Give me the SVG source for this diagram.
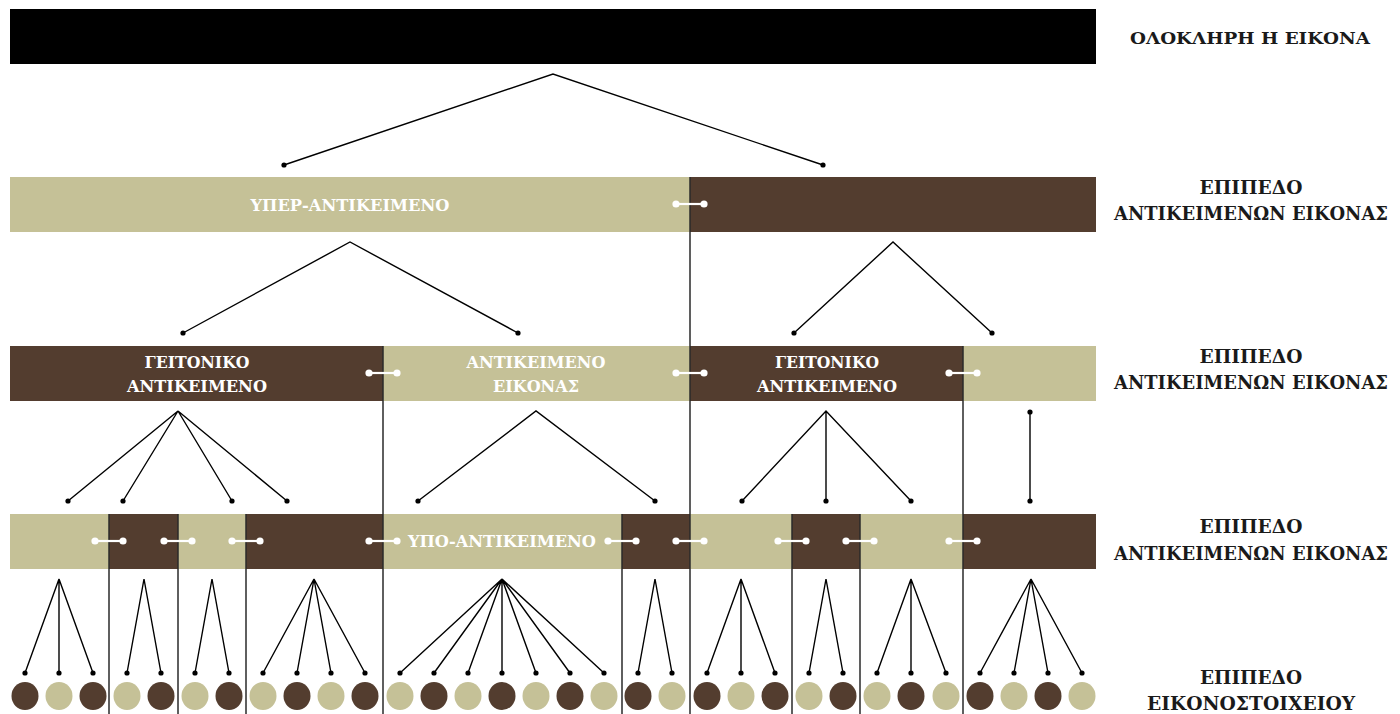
<svg xmlns="http://www.w3.org/2000/svg" width="1400" height="714" viewBox="0 0 1400 714">
<style>
.lt{fill:#c5c197}
.dk{fill:#533d2f}
.sep{stroke:#2a2a2a;stroke-width:1.5;fill:none}
.tr{stroke:#000;stroke-width:1.4;fill:none}
.dot{fill:#000}
.br line{stroke:#fff;stroke-width:2.2}
.br circle{fill:#fff}
.bt{font-family:"DejaVu Serif","Liberation Serif",serif;font-weight:bold;fill:#fff;font-size:17px;text-anchor:middle}
.lb{font-family:"DejaVu Serif","Liberation Serif",serif;font-weight:bold;fill:#1a1a1a;text-anchor:middle}
</style>
<defs>
<g id="bridge" class="br"><line x1="-14" y1="0" x2="14" y2="0"/><circle cx="-14" cy="0" r="3.6"/><circle cx="14" cy="0" r="3.6"/></g>
</defs>
<rect width="1400" height="714" fill="#fff"/>

<g id="whole-image"><rect x="10" y="9" width="1086" height="55" fill="#000"/></g>

<g id="row1">
<rect class="lt" x="10" y="177" width="680" height="55"/>
<rect class="dk" x="690" y="177" width="406" height="55"/>
<text class="bt" x="350" y="211" textLength="199" lengthAdjust="spacingAndGlyphs">ΥΠΕΡ-ΑΝΤΙΚΕΙΜΕΝΟ</text>
</g>

<g id="row2">
<rect class="dk" x="10" y="346" width="373" height="55"/>
<rect class="lt" x="383" y="346" width="307" height="55"/>
<rect class="dk" x="690" y="346" width="273" height="55"/>
<rect class="lt" x="963" y="346" width="133" height="55"/>
<text class="bt" x="197" y="368" textLength="105" lengthAdjust="spacingAndGlyphs">ΓΕΙΤΟΝΙΚΟ</text>
<text class="bt" x="197" y="392" textLength="140" lengthAdjust="spacingAndGlyphs">ΑΝΤΙΚΕΙΜΕΝΟ</text>
<text class="bt" x="536" y="368" textLength="139" lengthAdjust="spacingAndGlyphs">ΑΝΤΙΚΕΙΜΕΝΟ</text>
<text class="bt" x="536" y="392" textLength="86" lengthAdjust="spacingAndGlyphs">ΕΙΚΟΝΑΣ</text>
<text class="bt" x="827" y="368" textLength="104" lengthAdjust="spacingAndGlyphs">ΓΕΙΤΟΝΙΚΟ</text>
<text class="bt" x="827" y="392" textLength="140" lengthAdjust="spacingAndGlyphs">ΑΝΤΙΚΕΙΜΕΝΟ</text>
</g>

<g id="row3">
<rect class="lt" x="10" y="514" width="99" height="55"/>
<rect class="dk" x="109" y="514" width="69" height="55"/>
<rect class="lt" x="178" y="514" width="68" height="55"/>
<rect class="dk" x="246" y="514" width="137" height="55"/>
<rect class="lt" x="383" y="514" width="239" height="55"/>
<rect class="dk" x="622" y="514" width="68" height="55"/>
<rect class="lt" x="690" y="514" width="102" height="55"/>
<rect class="dk" x="792" y="514" width="68" height="55"/>
<rect class="lt" x="860" y="514" width="103" height="55"/>
<rect class="dk" x="963" y="514" width="133" height="55"/>
<text class="bt" x="502" y="547" textLength="188" lengthAdjust="spacingAndGlyphs">ΥΠΟ-ΑΝΤΙΚΕΙΜΕΝΟ</text>
</g>

<g id="separators">
<line class="sep" x1="690" y1="177" x2="690" y2="714"/>
<line class="sep" x1="383" y1="346" x2="383" y2="714"/>
<line class="sep" x1="963" y1="346" x2="963" y2="714"/>
<line class="sep" x1="109" y1="514" x2="109" y2="714"/>
<line class="sep" x1="178" y1="514" x2="178" y2="714"/>
<line class="sep" x1="246" y1="514" x2="246" y2="714"/>
<line class="sep" x1="622" y1="514" x2="622" y2="714"/>
<line class="sep" x1="792" y1="514" x2="792" y2="714"/>
<line class="sep" x1="860" y1="514" x2="860" y2="714"/>
</g>

<g id="bridges">
<use href="#bridge" x="690" y="204"/>
<use href="#bridge" x="383" y="373"/>
<use href="#bridge" x="690" y="373"/>
<use href="#bridge" x="963" y="373"/>
<use href="#bridge" x="109" y="541"/>
<use href="#bridge" x="178" y="541"/>
<use href="#bridge" x="246" y="541"/>
<use href="#bridge" x="383" y="541"/>
<use href="#bridge" x="622" y="541"/>
<use href="#bridge" x="690" y="541"/>
<use href="#bridge" x="792" y="541"/>
<use href="#bridge" x="860" y="541"/>
<use href="#bridge" x="963" y="541"/>
</g>

<g id="connectors">
<path class="tr" d="M284 165L553 74L823 165"/>
<path class="tr" d="M183 333L350 242L518 333M794 333L893 242L992 333"/>
<path class="tr" d="M68 501L178 411L123 501M178 411L232 501M178 411L287 501M418 501L536 411L655 501M742 501L826 411L911 501M826 411L826 501M1030 412L1030 501"/>
<path class="tr" d="M25 673L59 579L59 673M59 579L93 673
M127 673L144 579L161 673
M195 673L212 579L229 673
M263 673L314 579L297 673M314 579L331 673M314 579L365 673
M400 673L502 579L434 673M502 579L468 673M502 579L502 673M502 579L536 673M502 579L570 673M502 579L604 673
M638 673L655 579L672 673
M707 673L741 579L741 673M741 579L775 673
M809 673L826 579L843 673
M877 673L911 579L911 673M911 579L946 673
M980 673L1031 579L1014 673M1031 579L1048 673M1031 579L1082 673"/>
<g class="dot">
<circle cx="284" cy="165" r="2.6"/><circle cx="823" cy="165" r="2.6"/>
<circle cx="183" cy="333" r="2.6"/><circle cx="518" cy="333" r="2.6"/><circle cx="794" cy="333" r="2.6"/><circle cx="992" cy="333" r="2.6"/>
<circle cx="68" cy="501" r="2.6"/><circle cx="123" cy="501" r="2.6"/><circle cx="232" cy="501" r="2.6"/><circle cx="287" cy="501" r="2.6"/>
<circle cx="418" cy="501" r="2.6"/><circle cx="655" cy="501" r="2.6"/>
<circle cx="742" cy="501" r="2.6"/><circle cx="826" cy="501" r="2.6"/><circle cx="911" cy="501" r="2.6"/>
<circle cx="1030" cy="412" r="2.6"/><circle cx="1030" cy="501" r="2.6"/>
<circle cx="25" cy="673" r="2.6"/><circle cx="59" cy="673" r="2.6"/><circle cx="93" cy="673" r="2.6"/>
<circle cx="127" cy="673" r="2.6"/><circle cx="161" cy="673" r="2.6"/>
<circle cx="195" cy="673" r="2.6"/><circle cx="229" cy="673" r="2.6"/>
<circle cx="263" cy="673" r="2.6"/><circle cx="297" cy="673" r="2.6"/><circle cx="331" cy="673" r="2.6"/><circle cx="365" cy="673" r="2.6"/>
<circle cx="400" cy="673" r="2.6"/><circle cx="434" cy="673" r="2.6"/><circle cx="468" cy="673" r="2.6"/><circle cx="502" cy="673" r="2.6"/><circle cx="536" cy="673" r="2.6"/><circle cx="570" cy="673" r="2.6"/><circle cx="604" cy="673" r="2.6"/>
<circle cx="638" cy="673" r="2.6"/><circle cx="672" cy="673" r="2.6"/>
<circle cx="707" cy="673" r="2.6"/><circle cx="741" cy="673" r="2.6"/><circle cx="775" cy="673" r="2.6"/>
<circle cx="809" cy="673" r="2.6"/><circle cx="843" cy="673" r="2.6"/>
<circle cx="877" cy="673" r="2.6"/><circle cx="911" cy="673" r="2.6"/><circle cx="946" cy="673" r="2.6"/>
<circle cx="980" cy="673" r="2.6"/><circle cx="1014" cy="673" r="2.6"/><circle cx="1048" cy="673" r="2.6"/><circle cx="1082" cy="673" r="2.6"/>
</g>
</g>

<g id="pixels">
<ellipse class="dk" cx="25" cy="696" rx="13.5" ry="14"/><ellipse class="lt" cx="59" cy="696" rx="13.5" ry="14"/>
<ellipse class="dk" cx="93" cy="696" rx="13.5" ry="14"/><ellipse class="lt" cx="127" cy="696" rx="13.5" ry="14"/>
<ellipse class="dk" cx="161" cy="696" rx="13.5" ry="14"/><ellipse class="lt" cx="195" cy="696" rx="13.5" ry="14"/>
<ellipse class="dk" cx="229" cy="696" rx="13.5" ry="14"/><ellipse class="lt" cx="263" cy="696" rx="13.5" ry="14"/>
<ellipse class="dk" cx="297" cy="696" rx="13.5" ry="14"/><ellipse class="lt" cx="331" cy="696" rx="13.5" ry="14"/>
<ellipse class="dk" cx="365" cy="696" rx="13.5" ry="14"/><ellipse class="lt" cx="400" cy="696" rx="13.5" ry="14"/>
<ellipse class="dk" cx="434" cy="696" rx="13.5" ry="14"/><ellipse class="lt" cx="468" cy="696" rx="13.5" ry="14"/>
<ellipse class="dk" cx="502" cy="696" rx="13.5" ry="14"/><ellipse class="lt" cx="536" cy="696" rx="13.5" ry="14"/>
<ellipse class="dk" cx="570" cy="696" rx="13.5" ry="14"/><ellipse class="lt" cx="604" cy="696" rx="13.5" ry="14"/>
<ellipse class="dk" cx="638" cy="696" rx="13.5" ry="14"/><ellipse class="lt" cx="672" cy="696" rx="13.5" ry="14"/>
<ellipse class="dk" cx="707" cy="696" rx="13.5" ry="14"/><ellipse class="lt" cx="741" cy="696" rx="13.5" ry="14"/>
<ellipse class="dk" cx="775" cy="696" rx="13.5" ry="14"/><ellipse class="lt" cx="809" cy="696" rx="13.5" ry="14"/>
<ellipse class="dk" cx="843" cy="696" rx="13.5" ry="14"/><ellipse class="lt" cx="877" cy="696" rx="13.5" ry="14"/>
<ellipse class="dk" cx="911" cy="696" rx="13.5" ry="14"/><ellipse class="lt" cx="946" cy="696" rx="13.5" ry="14"/>
<ellipse class="dk" cx="980" cy="696" rx="13.5" ry="14"/><ellipse class="lt" cx="1014" cy="696" rx="13.5" ry="14"/>
<ellipse class="dk" cx="1048" cy="696" rx="13.5" ry="14"/><ellipse class="lt" cx="1082" cy="696" rx="13.5" ry="14"/>
</g>

<g id="labels">
<text class="lb" x="1250" y="44" font-size="17" textLength="240" lengthAdjust="spacingAndGlyphs">ΟΛΟΚΛΗΡΗ Η ΕΙΚΟΝΑ</text>
<text class="lb" x="1251" y="194" font-size="19" textLength="103" lengthAdjust="spacingAndGlyphs">ΕΠΙΠΕΔΟ</text>
<text class="lb" x="1251" y="220" font-size="18" textLength="274" lengthAdjust="spacingAndGlyphs">ΑΝΤΙΚΕΙΜΕΝΩΝ ΕΙΚΟΝΑΣ</text>
<text class="lb" x="1251" y="363" font-size="19" textLength="103" lengthAdjust="spacingAndGlyphs">ΕΠΙΠΕΔΟ</text>
<text class="lb" x="1251" y="389" font-size="18" textLength="274" lengthAdjust="spacingAndGlyphs">ΑΝΤΙΚΕΙΜΕΝΩΝ ΕΙΚΟΝΑΣ</text>
<text class="lb" x="1251" y="533" font-size="19" textLength="103" lengthAdjust="spacingAndGlyphs">ΕΠΙΠΕΔΟ</text>
<text class="lb" x="1251" y="560" font-size="18" textLength="274" lengthAdjust="spacingAndGlyphs">ΑΝΤΙΚΕΙΜΕΝΩΝ ΕΙΚΟΝΑΣ</text>
<text class="lb" x="1251" y="684" font-size="18" textLength="102" lengthAdjust="spacingAndGlyphs">ΕΠΙΠΕΔΟ</text>
<text class="lb" x="1251" y="710" font-size="18" textLength="208" lengthAdjust="spacingAndGlyphs">ΕΙΚΟΝΟΣΤΟΙΧΕΙΟΥ</text>
</g>
</svg>
